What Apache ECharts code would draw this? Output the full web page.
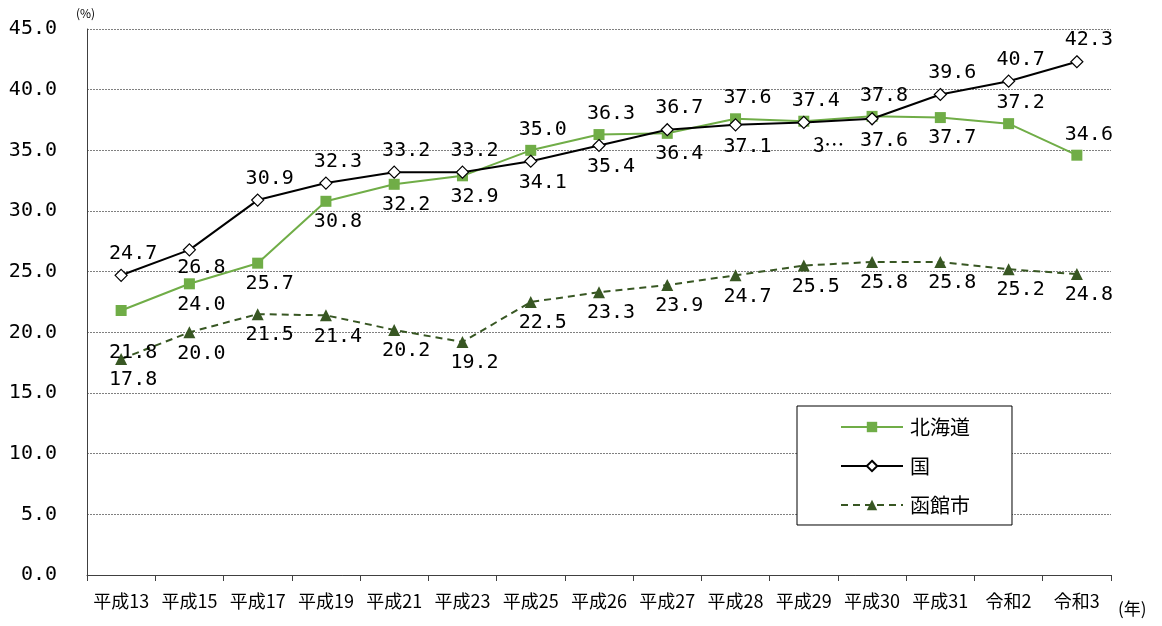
<!DOCTYPE html>
<html><head><meta charset="utf-8">
<script src="https://cdn.jsdelivr.net/npm/echarts@6/dist/echarts.min.js"></script>
<style>html,body{margin:0;padding:0;background:#fff}#c{width:1162px;height:626px}</style>
</head><body><div id="c"></div>
<script>
const categories = ['平成13','平成15','平成17','平成19','平成21','平成23','平成25','平成26','平成27','平成28','平成29','平成30','平成31','令和2','令和3'];
const hokkaido = [21.8,24.0,25.7,30.8,32.2,32.9,35.0,36.3,36.4,37.6,37.4,37.8,37.7,37.2,34.6];
const kuni     = [24.7,26.8,30.9,32.3,33.2,33.2,34.1,35.4,36.7,37.1,37.3,37.6,39.6,40.7,42.3];
const hakodate = [17.8,20.0,21.5,21.4,20.2,19.2,22.5,23.3,23.9,24.7,25.5,25.8,25.8,25.2,24.8];
const yTicks = [0,5,10,15,20,25,30,35,40,45];

// label placement (t = above, b = below)
const hokkaidoPos = ['b','b','b','b','b','b','t','t','b','t','t','t','b','t','t'];
const kuniPos     = ['t','b','t','t','t','t','b','b','t','b','b','b','t','t','t'];
const hakodatePos = ['b','b','b','b','b','b','b','b','b','b','b','b','b','b','b'];

const numFont = 'DejaVu Sans Mono';
function build(values, pos, extra) {
  return values.map((v, i) => {
    const lab = { position: pos[i] === 't' ? 'top' : 'bottom', offset: [12, 0] };
    if (extra && extra[i]) Object.assign(lab, extra[i]);
    return { value: v, label: lab };
  });
}
const hokkaidoData = build(hokkaido, hokkaidoPos, { 0: { offset: [12, 22] } });
const kuniData = build(kuni, kuniPos, {
  1: { offset: [12, -4] },
  10: { offset: [25, 0], formatter: '3\u2026', fontFamily: 'Noto Sans CJK JP', fontSize: 20 }
});
const hakodateData = build(hakodate, hakodatePos, null);

const labelBase = { show: true, color: '#000', fontFamily: numFont, fontSize: 20, formatter: p => p.value.toFixed(1) };

const chart = echarts.init(document.getElementById('c'));
chart.setOption({
  animation: false,
  backgroundColor: '#fff',
  grid: { left: 87, right: 51, top: 29, bottom: 51 },
  xAxis: {
    type: 'category', data: categories, boundaryGap: true,
    axisLine: { lineStyle: { color: '#404040', width: 1 } },
    axisTick: { show: true, interval: 0, length: 6, lineStyle: { color: '#404040' } },
    axisLabel: { interval: 0, color: '#000', fontSize: 18, fontFamily: 'Noto Sans CJK JP', margin: 17 },
    splitLine: { show: false }
  },
  yAxis: {
    type: 'value', min: 0, max: 45, interval: 5,
    axisLine: { show: true, lineStyle: { color: '#404040', width: 1 } },
    axisTick: { show: false },
    axisLabel: { color: '#000', fontSize: 20, fontFamily: numFont, margin: 30, formatter: v => v.toFixed(1) },
    splitLine: { show: true, lineStyle: { color: '#808080', type: [2, 1], width: 1 } }
  },
  legend: {
    orient: 'vertical', left: 797, top: 406,
    padding: [11, 42, 10, 43],
    itemWidth: 62, itemHeight: 13, itemGap: 19,
    backgroundColor: '#fff', borderColor: '#000', borderWidth: 1,
    textStyle: { fontFamily: 'Noto Sans CJK JP', fontSize: 20, color: '#000', padding: [0, 0, 0, 2] },
    data: ['北海道', '国', '函館市']
  },
  graphic: [
    { type: 'text', left: 76, top: 7, style: { text: '(%)', font: '12px "Noto Sans CJK JP"', fill: '#000' } },
    { type: 'text', left: 1118, top: 600, style: { text: '(年)', font: '17px "Noto Sans CJK JP"', fill: '#000' } }
  ],
  series: [
    {
      name: '北海道', type: 'line', data: hokkaidoData,
      symbol: 'rect', symbolSize: 11,
      itemStyle: { color: '#70AD47' },
      lineStyle: { color: '#70AD47', width: 2 },
      label: labelBase, z: 3
    },
    {
      name: '国', type: 'line', data: kuniData,
      symbol: 'diamond', symbolSize: 12,
      itemStyle: { color: '#fff', borderColor: '#000', borderWidth: 1.2 },
      lineStyle: { color: '#000', width: 2 },
      label: labelBase, z: 4
    },
    {
      name: '函館市', type: 'line', data: hakodateData,
      symbol: 'triangle', symbolSize: 12,
      itemStyle: { color: '#385723' },
      lineStyle: { color: '#385723', width: 2, type: [7, 5] },
      label: labelBase, z: 2
    }
  ]
});
</script>
</body></html>
